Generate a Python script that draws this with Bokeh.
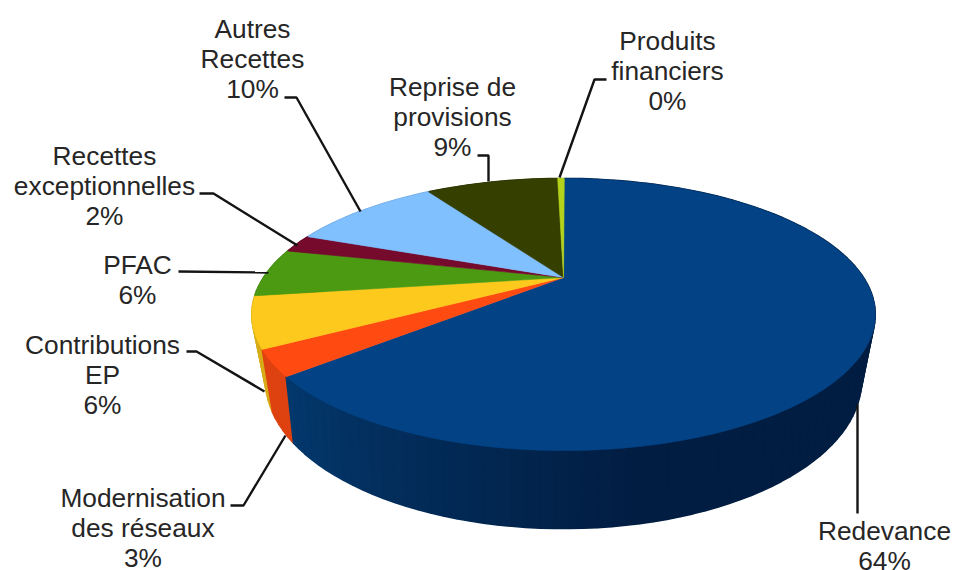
import numpy as np
from bokeh.core.properties import value
from bokeh.embed import file_html
from bokeh.models import Range1d
from bokeh.plotting import figure
from bokeh.resources import INLINE

# Revenue shares, clockwise from the top of the disc
categories = ["Redevance", "Modernisation\ndes réseaux", "Contributions\nEP", "PFAC",
              "Recettes\nexceptionnelles", "Autres\nRecettes", "Reprise de\nprovisions",
              "Produits\nfinanciers"]
shares = [63.65, 3.0, 6.0, 5.8, 2.2, 9.9, 8.9, 0.45]

top_colors = ["#034385", "#ff4a12", "#fdc91c", "#4b9a12", "#750a2c", "#80c0ff", "#353f00", "#b2d21c"]
side_colors = ["#03386c", "#de4210", "#d8ac18", "#3f8210", "#5c0822", "#6ca4da", "#2a3200", "#98b418"]

# Label anchors (centre x, first line y) and leader polylines, in page pixels
label_x = [884, 142.5, 102, 137, 104, 252, 452, 667]
label_y = [530, 497, 344, 264, 155, 28, 86, 40]
leader_x = [[857, 857], [230, 243, 285], [186, 196, 264], [178, 268],
            [199, 213, 297], [284, 296, 360], [477, 488, 488], [606, 594, 559]]
leader_y = [[404, 513], [505, 505, 435], [351, 351, 391], [271, 272],
            [193, 193, 245], [97, 97, 211], [155, 155, 181], [79, 79, 177]]

# Perspective of the tilted disc: top rim and bottom rim
CX, CY = 563.0, 277.0
TOP_RX, TOP_RY, TOP_TILT = 300.0, 126.0, 0.272
BASE_CY, BASE_RX, BASE_RY, BASE_TILT = 334.0, 283.3, 133.9, 0.31
START_DEG = 0.2
LINE_STEP = 30.2


def rim(theta_deg, rx=TOP_RX, ry=TOP_RY, tilt=TOP_TILT, cy=CY):
    t = np.radians(theta_deg)
    u, v = np.sin(t), -np.cos(t)
    d = 1 - tilt * v
    return CX + rx * u / d, cy + ry * v / d


def base_rim(theta_deg):
    return rim(theta_deg, BASE_RX, BASE_RY, BASE_TILT, BASE_CY)


def mix(a, b, f):
    ca = [int(a[i:i + 2], 16) for i in (1, 3, 5)]
    cb = [int(b[i:i + 2], 16) for i in (1, 3, 5)]
    return "#%02x%02x%02x" % tuple(round(x + (y - x) * f) for x, y in zip(ca, cb))


edges = START_DEG + np.concatenate([[0], np.cumsum(shares)]) * 3.6 / (sum(shares) / 100)

p = figure(width=955, height=570, output_backend="svg", toolbar_location=None,
           x_range=Range1d(0, 955), y_range=Range1d(570, 0),
           min_border=0, outline_line_color=None, background_fill_color="white")
p.axis.visible = False
p.grid.visible = False

# Side wall: strips sorted back to front, darkening toward the right for the main slice
strips = []
for i, (a, b) in enumerate(zip(edges[:-1], edges[1:])):
    n = max(2, int((b - a) / 2.0))
    th = np.linspace(a, b, n + 1)
    for t0, t1 in zip(th[:-1], th[1:]):
        mid = (t0 + t1) / 2
        color = side_colors[i]
        if i == 0:
            f = np.clip((228 - mid) / (228 - 100), 0, 1)
            color = mix("#03386c", "#021d42", min(1.0, f * 2.2))
        x0, y0 = rim(t0)
        x1, y1 = rim(t1)
        x2, y2 = base_rim(t1)
        x3, y3 = base_rim(t0)
        strips.append((-np.cos(np.radians(mid)), [x0, x1, x2, x3], [y0, y1, y2, y3], color))
strips.sort(key=lambda s: s[0])
p.patches([s[1] for s in strips], [s[2] for s in strips], fill_color=[s[3] for s in strips],
          line_color=[s[3] for s in strips], line_width=1.6)

# Top face of the pie
for i, (a, b) in enumerate(zip(edges[:-1], edges[1:])):
    th = np.linspace(a, b, max(3, int(b - a) * 2))
    xs, ys = rim(th)
    p.patch(np.r_[CX, xs], np.r_[CY, ys], fill_color=top_colors[i], line_color=top_colors[i], line_width=0.6)

# Leaders
p.multi_line(leader_x, leader_y, line_color="#141414", line_width=2.4)

# Labels, one text per line, percentage last
tx, ty, tt = [], [], []
for name, share, x, y in zip(categories, shares, label_x, label_y):
    for j, line in enumerate(name.split("\n") + [f"{round(share)}%"]):
        tx.append(x)
        ty.append(y + j * LINE_STEP)
        tt.append(line)
p.text(tx, ty, text=tt, text_align="center", text_baseline="middle",
       text_font=value("Liberation Sans"), text_font_size="26.3px", text_color="#262626")

open("out.html", "w").write(file_html(p, INLINE))
